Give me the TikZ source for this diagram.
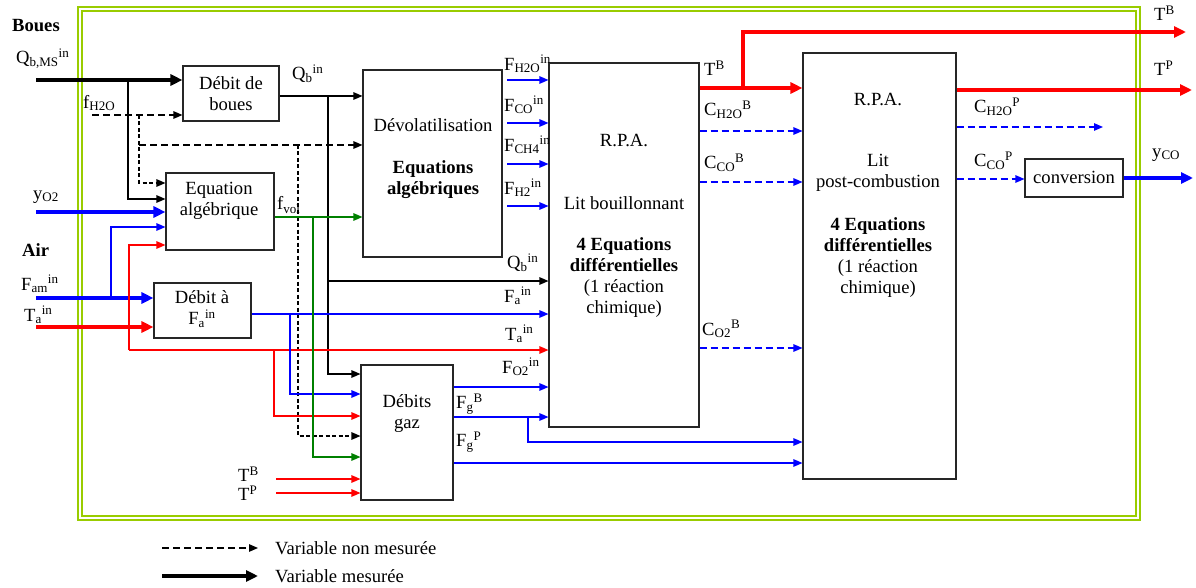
\documentclass[tikz,border=0pt]{standalone}
\usepackage{fontspec}
\setmainfont{Liberation Serif}
\usetikzlibrary{arrows.meta}
\definecolor{framegreen}{RGB}{153,204,0}
\definecolor{dgreen}{RGB}{0,128,0}
\newcommand\SubSup[3]{#1\textsubscript{#2}\textsuperscript{#3}}
\newcommand\Sb[2]{#1\textsubscript{#2}}
\newcommand\Sp[2]{#1\textsuperscript{#2}}
\begin{document}
\begin{tikzpicture}[x=1pt,y=-1pt, font=\fontsize{18.6}{21}\selectfont,
 box/.style={draw=black!85, line width=1.1pt, fill=white, inner sep=0pt},
 lbl/.style={anchor=west, inner sep=0pt},
 txt/.style={align=center, inner sep=0pt},
 thin/.style={line width=1.2pt, -{Triangle[length=9pt,width=7.5pt]}},
 thick/.style={line width=4pt, -{Triangle[length=12pt,width=11pt]}},
 dsh/.style={dash pattern=on 7pt off 4pt},
 dshf/.style={dash pattern=on 4pt off 2.5pt},
]
\useasboundingbox (0,0) rectangle (1196,588);
% frame
\draw[framegreen, line width=1.3pt] (78,7) rectangle (1140,520);
\draw[framegreen, line width=1.3pt] (82,11) rectangle (1136,516);
% boxes
\node[box, minimum width=96pt, minimum height=55pt] (boues) at (231,93.5) {};
\node[box, minimum width=108pt, minimum height=77pt] (eqalg) at (220,211.5) {};
\node[box, minimum width=97pt, minimum height=55pt] (debfa) at (202.5,310.5) {};
\node[box, minimum width=139pt, minimum height=187pt] (devol) at (432.5,163.5) {};
\node[box, minimum width=150pt, minimum height=364pt] (rpa1) at (624,245) {};
\node[box, minimum width=153pt, minimum height=426pt] (rpa2) at (879.5,266) {};
\node[box, minimum width=98pt, minimum height=38pt] (conv) at (1074,178) {};
\node[box, minimum width=92pt, minimum height=135pt] (gaz) at (407,432.5) {};
% box texts
\node[txt] (tboues) at (231,93.5) {Débit de\\boues};
\node[txt] (teqalg) at (219,201) {Equation\\algébrique};
\node[txt] (tdebfa) at (202,309) {Débit à\\\SubSup{F}{a}{in}};
\node[txt] (tdevol1) at (433,125) {Dévolatilisation};
\node[txt, font=\fontsize{18.6}{21}\selectfont\bfseries] (tdevol2) at (433,179.5) {Equations\\algébriques};
\node[txt] (trpa1a) at (624,140) {R.P.A.};
\node[txt] (trpa1b) at (624,203) {Lit bouillonnant};
\node[txt] (trpa1c) at (624,278) {\textbf{4 Equations}\\\textbf{différentielles}\\(1 réaction\\chimique)};
\node[txt] (trpa2a) at (878,99) {R.P.A.};
\node[txt] (trpa2b) at (878,173) {Lit\\post-combustion};
\node[txt] (trpa2c) at (878,258) {\textbf{4 Equations}\\\textbf{différentielles}\\(1 réaction\\chimique)};
\node[txt] (tconv) at (1074,177) {conversion};
\node[txt] (tgaz) at (407,414) {Débits\\gaz};
% Boues inputs
\coordinate (qmsS) at (36,80);
\coordinate (j1) at (128,80);
\draw[thick] (qmsS) -- (qmsS -| boues.west);
\draw[thin] (j1) |- (eqalg.west |- 0,199);
\coordinate (fhS) at (92,115);
\coordinate (j2) at (139,115);
\coordinate (j3) at (139,145);
\coordinate (j4) at (298,145);
\draw[thin,dsh] (fhS) -- (fhS -| boues.west);
\draw[thin,dshf] (j2) |- (eqalg.west |- 0,183);
\draw[thin,dsh] (j3) -- (j3 -| devol.west);
\draw[thin,dshf] (j4) |- (gaz.west |- 0,436);
% Qb
\draw[thin] (boues.east |- 0,96) -- (devol.west |- 0,96);
\coordinate (j5) at (328,96);
\coordinate (j6) at (328,281);
\draw[thin] (j5) |- (gaz.west |- 0,374);
\draw[thin] (j6) -- (j6 -| rpa1.west);
% yO2
\coordinate (yoS) at (36,212);
\draw[thick,blue] (yoS) -- (yoS -| eqalg.west);
% Fam
\coordinate (famS) at (36,298);
\coordinate (j7) at (111,298);
\draw[thick,blue] (famS) -- (famS -| debfa.west);
\draw[thin,blue] (j7) |- (eqalg.west |- 0,227);
% Ta
\coordinate (taS) at (36,327);
\coordinate (j8) at (129,350);
\coordinate (j9) at (274,350);
\draw[thick,red] (taS) -- (taS -| debfa.west);
\draw[thin,red] (j8) |- (eqalg.west |- 0,245);
\draw[thin,red] (j8) -- (j8 -| rpa1.west);
\draw[thin,red] (j9) |- (gaz.west |- 0,416);
% Fa out
\coordinate (j10) at (290,314);
\draw[thin,blue] (debfa.east |- 0,314) -- (rpa1.west |- 0,314);
\draw[thin,blue] (j10) |- (gaz.west |- 0,394);
% fvol
\coordinate (j11) at (313,217);
\draw[thin,dgreen] (eqalg.east |- 0,217) -- (devol.west |- 0,217);
\draw[thin,dgreen] (j11) |- (gaz.west |- 0,457);
% TB TP into gaz
\coordinate (tbS) at (276,479);
\coordinate (tpS) at (276,493);
\draw[thin,red] (tbS) -- (tbS -| gaz.west);
\draw[thin,red] (tpS) -- (tpS -| gaz.west);
% devol outputs
\foreach \y/\n in {80/a,123/b,164/c,206/d}{
  \coordinate (dv\n) at (507,\y);
  \draw[thin,blue] (dv\n) -- (dv\n -| rpa1.west);
}
% gaz outputs
\coordinate (j12) at (528,417);
\draw[thin,blue] (gaz.east |- 0,387) -- (rpa1.west |- 0,387);
\draw[thin,blue] (gaz.east |- 0,417) -- (rpa1.west |- 0,417);
\draw[thin,blue] (j12) |- (rpa2.west |- 0,442);
\draw[thin,blue] (gaz.east |- 0,463) -- (rpa2.west |- 0,463);
% RPA1 outputs
\coordinate (j13) at (743,88);
\coordinate (tbE) at (1186,32);
\draw[thick,red] (rpa1.east |- 0,88) -- (rpa2.west |- 0,88);
\draw[thick,red] (j13) |- (tbE);
\draw[thin,blue,dsh] (rpa1.east |- 0,131) -- (rpa2.west |- 0,131);
\draw[thin,blue,dsh] (rpa1.east |- 0,182) -- (rpa2.west |- 0,182);
\draw[thin,blue,dsh] (rpa1.east |- 0,348) -- (rpa2.west |- 0,348);
% RPA2 outputs
\coordinate (tpE) at (1192,90);
\coordinate (chE) at (1103,127);
\coordinate (ycoE) at (1193,178);
\draw[thick,red] (rpa2.east |- 0,90) -- (tpE);
\draw[thin,blue,dsh] (rpa2.east |- 0,127) -- (chE);
\draw[thin,blue,dsh] (rpa2.east |- 0,179) -- (conv.west |- 0,179);
\draw[thick,blue] (conv.east |- 0,178) -- (ycoE);
% labels
\node[lbl, font=\fontsize{18.6}{21}\selectfont\bfseries] (lboues) at (12,26) {Boues};
\node[lbl] (lqms) at (16,59) {\SubSup{Q}{b,MS}{in}};
\node[lbl] (lfh) at (83,103) {\Sb{f}{H2O}};
\node[lbl] (lqb1) at (292,74) {\SubSup{Q}{b}{in}};
\node[lbl] (lyo) at (33,197) {\Sb{y}{O2}};
\node[lbl, font=\fontsize{18.6}{21}\selectfont\bfseries] (lair) at (22,250) {Air};
\node[lbl] (lfam) at (21,284) {\SubSup{F}{am}{in}};
\node[lbl] (lta) at (24,315) {\SubSup{T}{a}{in}};
\node[lbl] (lfvol) at (277,205) {\Sb{f}{vol}};
\node[lbl] (ltb1) at (238,474) {\Sp{T}{B}};
\node[lbl] (ltp1) at (238,493) {\Sp{T}{P}};
\node[lbl] (lfh2o) at (504,64) {\SubSup{F}{H2O}{in}};
\node[lbl] (lfco) at (504,105) {\SubSup{F}{CO}{in}};
\node[lbl] (lfch4) at (504,145) {\SubSup{F}{CH4}{in}};
\node[lbl] (lfh2) at (504,188) {\SubSup{F}{H2}{in}};
\node[lbl] (lqb2) at (507,263) {\SubSup{Q}{b}{in}};
\node[lbl] (lfa) at (504,296) {\SubSup{F}{a}{in}};
\node[lbl] (lta2) at (505,334) {\SubSup{T}{a}{in}};
\node[lbl] (lfo2) at (502,367) {\SubSup{F}{O2}{in}};
\node[lbl] (lfgb) at (456,404) {\SubSup{F}{g}{B}};
\node[lbl] (lfgp) at (456,442) {\SubSup{F}{g}{P}};
\node[lbl] (ltb2) at (704,68) {\Sp{T}{B}};
\node[lbl] (lch2ob) at (704,110) {\SubSup{C}{H2O}{B}};
\node[lbl] (lccob) at (704,163) {\SubSup{C}{CO}{B}};
\node[lbl] (lco2b) at (702,329) {\SubSup{C}{O2}{B}};
\node[lbl] (ltb3) at (1154,13) {\Sp{T}{B}};
\node[lbl] (ltp3) at (1154,68) {\Sp{T}{P}};
\node[lbl] (lch2op) at (974,107) {\SubSup{C}{H2O}{P}};
\node[lbl] (lccop) at (974,161) {\SubSup{C}{CO}{P}};
\node[lbl] (lyco) at (1152,155) {\Sb{y}{CO}};
% legend
\coordinate (lg1) at (162,548);
\coordinate (lg1e) at (258,548);
\coordinate (lg2) at (162,576);
\coordinate (lg2e) at (258,576);
\draw[thin,dsh] (lg1) -- (lg1e);
\draw[thick] (lg2) -- (lg2e);
\node[lbl] (lgt1) at (275,548) {Variable non mesurée};
\node[lbl] (lgt2) at (275,576) {Variable mesurée};
\end{tikzpicture}
\end{document}
